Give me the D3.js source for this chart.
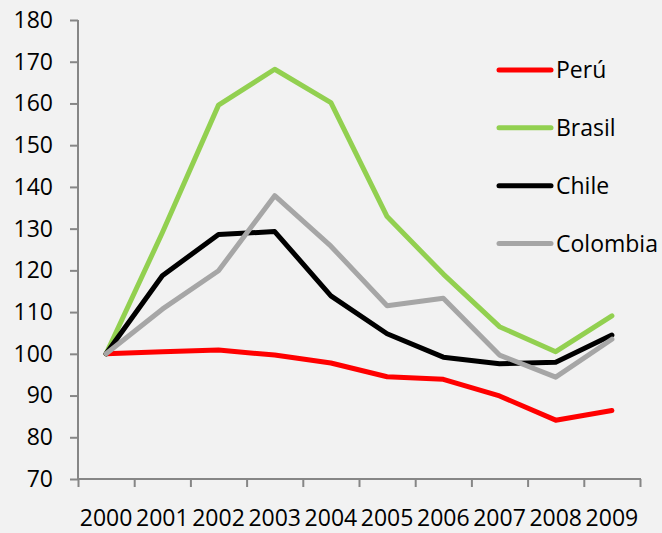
<!DOCTYPE html>
<html>
<head>
<meta charset="utf-8">
<script src="https://cdn.jsdelivr.net/npm/d3@7"></script>
<style>
  html, body { margin: 0; padding: 0; background: #F2F2F2; }
  svg { display: block; }
  text { font-family: "Open Sans", sans-serif; font-size: 23px; fill: #000; }
</style>
</head>
<body>
<svg></svg>
<script>
const years = ["2000", "2001", "2002", "2003", "2004", "2005", "2006", "2007", "2008", "2009"];
const seriesNames = ["Perú", "Brasil", "Chile", "Colombia"];
const seriesColors = ["#FF0000", "#92D050", "#000000", "#A6A6A6"];

const peru     = [100, 100.5, 100.9, 99.7, 97.8, 94.5, 93.9, 89.9, 84.1, 86.4];
const brasil   = [100, 129.0, 159.6, 168.2, 160.2, 132.9, 119.1, 106.5, 100.5, 109.1];
const chile    = [100, 118.7, 128.6, 129.3, 113.9, 104.8, 99.2, 97.6, 98.0, 104.5];
const colombia = [100, 110.7, 119.9, 137.9, 125.8, 111.5, 113.3, 99.7, 94.4, 103.5];
const seriesValues = [peru, brasil, chile, colombia];

const yTicks = [70, 80, 90, 100, 110, 120, 130, 140, 150, 160, 170, 180];

let width = 662;
let height = 533;
let plot = { left: 78, right: 640, top: 20, bottom: 479 };

let svg = d3.select("svg")
    .attr("width", width)
    .attr("height", height);

svg.append("rect")
    .attr("width", width)
    .attr("height", height)
    .attr("fill", "#F2F2F2");

let xScale = d3.scaleBand()
    .domain(years)
    .range([plot.left, plot.right]);

// boundaries between categories, for the tick marks
let xEdge = d3.scaleLinear()
    .domain([0, years.length])
    .range([plot.left, plot.right]);

let yScale = d3.scaleLinear()
    .domain([70, 180])
    .range([plot.bottom, plot.top]);

// y axis
let yAxis = d3.axisLeft(yScale)
    .tickValues(yTicks)
    .tickSize(8)
    .tickPadding(17)
    .tickFormat(d3.format("d"));

let gy = svg.append("g")
    .attr("transform", `translate(${plot.left},0)`)
    .call(yAxis);
gy.select(".domain").remove();
gy.selectAll("line").attr("stroke", "#868686").attr("stroke-width", 2);
gy.selectAll("text").style("font-size", "23px");
gy.append("line")
    .attr("x1", 0).attr("x2", 0)
    .attr("y1", plot.top).attr("y2", plot.bottom)
    .attr("stroke", "#868686").attr("stroke-width", 2);

// x axis: tick marks on boundaries
let xTickAxis = d3.axisBottom(xEdge)
    .tickValues(d3.range(0, years.length + 1))
    .tickSize(8)
    .tickFormat("");

let gxt = svg.append("g")
    .attr("transform", `translate(0,${plot.bottom})`)
    .call(xTickAxis);
gxt.select(".domain").remove();
gxt.selectAll("line").attr("stroke", "#868686").attr("stroke-width", 2);
gxt.append("line")
    .attr("x1", plot.left - 1).attr("x2", plot.right + 1)
    .attr("y1", 0).attr("y2", 0)
    .attr("stroke", "#868686").attr("stroke-width", 2);

// x axis labels at category centres
let xAxis = d3.axisBottom(xScale)
    .tickSize(0)
    .tickPadding(31);

let gx = svg.append("g")
    .attr("transform", `translate(0,${plot.bottom})`)
    .call(xAxis);
gx.select(".domain").remove();
gx.selectAll("text").style("font-size", "23px");

// lines
let line = d3.line()
    .x((d, i) => xScale(years[i]) + xScale.bandwidth() / 2)
    .y(d => yScale(d));

svg.selectAll(".series")
    .data(seriesValues)
    .enter()
    .append("path")
    .attr("class", "series")
    .attr("d", d => line(d))
    .attr("fill", "none")
    .attr("stroke", (d, i) => seriesColors[i])
    .attr("stroke-width", 5)
    .attr("stroke-linejoin", "round")
    .attr("stroke-linecap", "round");

// legend
let legendY = d3.scalePoint()
    .domain(seriesNames)
    .range([70, 243.5]);

let leg = svg.append("g");

leg.selectAll("line")
    .data(seriesNames)
    .enter()
    .append("line")
    .attr("x1", 499)
    .attr("x2", 551)
    .attr("y1", d => legendY(d))
    .attr("y2", d => legendY(d))
    .attr("stroke", (d, i) => seriesColors[i])
    .attr("stroke-width", 5)
    .attr("stroke-linecap", "round");

leg.selectAll("text")
    .data(seriesNames)
    .enter()
    .append("text")
    .attr("x", 556)
    .attr("y", d => legendY(d))
    .attr("dy", "0.35em")
    .text(d => d);
</script>
</body>
</html>
